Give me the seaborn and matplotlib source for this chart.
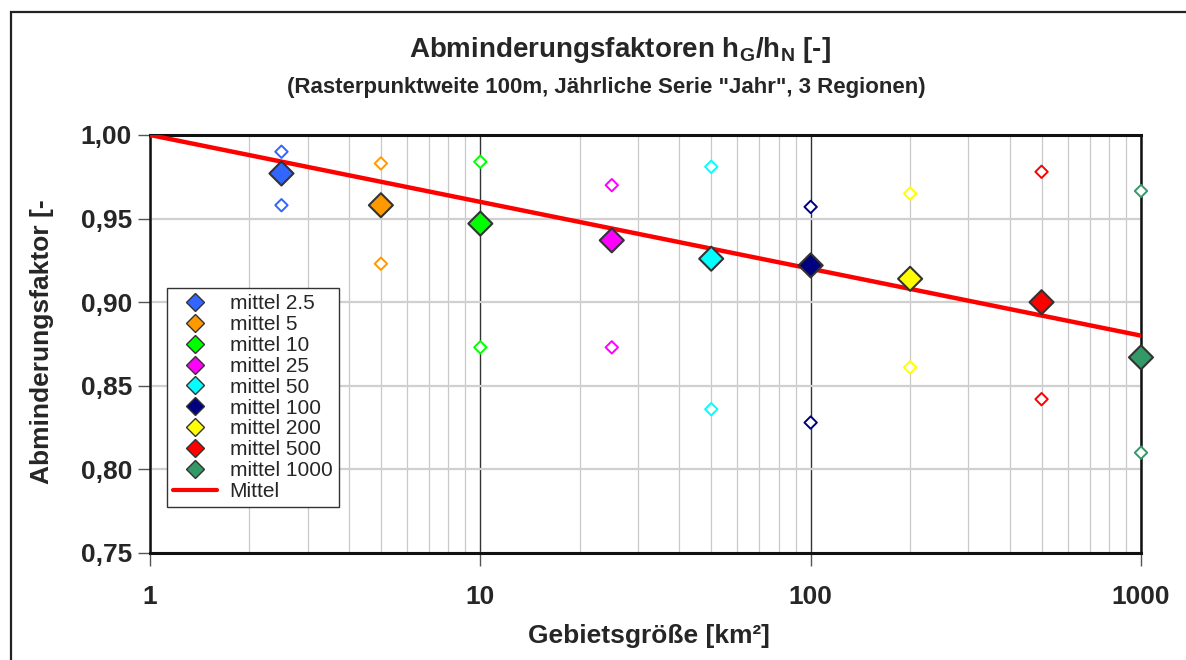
import matplotlib
matplotlib.use("Agg")
import matplotlib.pyplot as plt
from matplotlib.lines import Line2D
from matplotlib.patches import Rectangle
from matplotlib.ticker import FixedLocator, LogLocator, NullFormatter, FixedFormatter
import seaborn as sns
import pandas as pd

# Area classes [km²] and reduction factors
areas = [2.5, 5, 10, 25, 50, 100, 200, 500, 1000]
labels = ["mittel 2.5", "mittel 5", "mittel 10", "mittel 25", "mittel 50",
          "mittel 100", "mittel 200", "mittel 500", "mittel 1000"]
means = [0.977, 0.958, 0.947, 0.937, 0.926, 0.922, 0.914, 0.900, 0.867]
upper = [0.990, 0.983, 0.984, 0.970, 0.981, 0.957, 0.965, 0.978, 0.9665]
lower = [0.958, 0.923, 0.873, 0.873, 0.836, 0.828, 0.861, 0.842, 0.810]
colors = ["#3366FF", "#FF9900", "#00FF00", "#FF00FF", "#00FFFF",
          "#000080", "#FFFF00", "#FF0000", "#339966"]

# Overall mean regression line
mittel_x = [1, 1000]
mittel_y = [1.00, 0.88]

yticks = [0.75, 0.80, 0.85, 0.90, 0.95, 1.00]
ytick_labels = ["0,75", "0,80", "0,85", "0,90", "0,95", "1,00"]
xticks = [1, 10, 100, 1000]
xtick_labels = ["1", "10", "100", "1000"]

sns.set_theme(style="white")
plt.rcParams["font.family"] = ["Liberation Sans", "DejaVu Sans"]
plt.rcParams["mathtext.fontset"] = "custom"
plt.rcParams["mathtext.bf"] = "Liberation Sans:bold"
plt.rcParams["mathtext.rm"] = "Liberation Sans:bold"

W, H = 1186, 660
fig = plt.figure(figsize=(W / 100, H / 100), dpi=100)
ax = fig.add_axes([150 / W, 1 - 553 / H, (1141 - 150) / W, (553 - 135) / H])

df = pd.DataFrame({"area": areas, "label": labels, "mean": means,
                   "upper": upper, "lower": lower})
palette = dict(zip(labels, colors))

ax.set_xscale("log")
ax.set_xlim(1, 1000)
ax.set_ylim(0.75, 1.00)

# Grid: light minor verticals, dark major verticals, light horizontals
ax.xaxis.set_minor_locator(LogLocator(base=10, subs=range(2, 10)))
ax.xaxis.set_minor_formatter(NullFormatter())
ax.grid(which="minor", axis="x", color="#C8C8C8", lw=0.9, zorder=0)
ax.grid(which="major", axis="x", color="#333333", lw=1.0, zorder=0)
ax.grid(which="major", axis="y", color="#D0D0D0", lw=1.6, zorder=0)
ax.set_axisbelow(True)

# Mean line
sns.lineplot(x=mittel_x, y=mittel_y, ax=ax, color="#FF0000", lw=3.2,
             zorder=3, legend=False)

# Range markers (hollow)
for col in ["upper", "lower"]:
    sns.scatterplot(data=df, x="area", y=col, hue="label", palette=palette,
                    marker="D", s=40, ax=ax, legend=False,
                    zorder=4, linewidth=1.4, clip_on=False)
    coll = ax.collections[-1]
    coll.set_facecolor("white")
    coll.set_edgecolor([palette[l] for l in labels])

# Mean markers (filled)
sns.scatterplot(data=df, x="area", y="mean", hue="label", palette=palette,
                marker="D", s=150, edgecolor="#333333", linewidth=1.5,
                ax=ax, legend=False, zorder=5, clip_on=False)

ax.xaxis.set_major_locator(FixedLocator(xticks))
ax.xaxis.set_major_formatter(FixedFormatter(xtick_labels))
ax.set_yticks(yticks)
ax.set_yticklabels(ytick_labels)
ax.tick_params(axis="both", which="major", labelsize=19, length=9, width=1.0,
               color="#555555", direction="out", bottom=True, left=True)
ax.tick_params(axis="x", which="major", pad=14)
ax.tick_params(axis="y", which="major", pad=4)
ax.tick_params(axis="x", which="minor", length=0)
for t in ax.get_xticklabels() + ax.get_yticklabels():
    t.set_fontweight("bold")

for s in ["top", "bottom"]:
    ax.spines[s].set_color("#111111")
    ax.spines[s].set_linewidth(2.2)
for s in ["left", "right"]:
    ax.spines[s].set_color("#111111")
    ax.spines[s].set_linewidth(1.8)

ax.set_xlabel("")
ax.set_ylabel("")

# Texts
fig.text(620 / W, 1 - 50 / H, r"Abminderungsfaktoren h$_\mathbf{G}$/h$_\mathbf{N}$ [-]",
         ha="center", va="center", fontsize=20, fontweight="bold")
fig.text(606 / W, 1 - 88 / H,
         '(Rasterpunktweite 100m, Jährliche Serie "Jahr", 3 Regionen)',
         ha="center", va="center", fontsize=16, fontweight="bold")
fig.text(649 / W, 1 - 636 / H, "Gebietsgröße [km²]", ha="center", va="center",
         fontsize=19, fontweight="bold")
fig.text(42 / W, 1 - 342 / H, "Abminderungsfaktor [-", ha="center",
         va="center", rotation=90, fontsize=19, fontweight="bold")

# Legend
handles = [Line2D([], [], marker="D", ls="none", markersize=9,
                  markerfacecolor=c, markeredgecolor="#333333",
                  markeredgewidth=1.0) for c in colors]
handles.append(Line2D([], [], color="#FF0000", lw=3))
leg = ax.legend(handles, labels + ["Mittel"], loc="upper left",
                bbox_to_anchor=(167 / W, 1 - 288 / H),
                bbox_transform=fig.transFigure, borderaxespad=0,
                fontsize=15, labelspacing=0.09, handlelength=2.1,
                handletextpad=0.6, borderpad=0.3, fancybox=False,
                framealpha=1, edgecolor="#333333")
leg.get_frame().set_linewidth(1.0)
leg.set_zorder(10)

# Outer chart frame
fig.patches.append(Rectangle((11 / W, -0.05), 1.2, 1 - 12 / H + 0.05,
                             transform=fig.transFigure, fill=False,
                             edgecolor="#222222", lw=1.6))

fig.savefig("out.png", dpi=100)
